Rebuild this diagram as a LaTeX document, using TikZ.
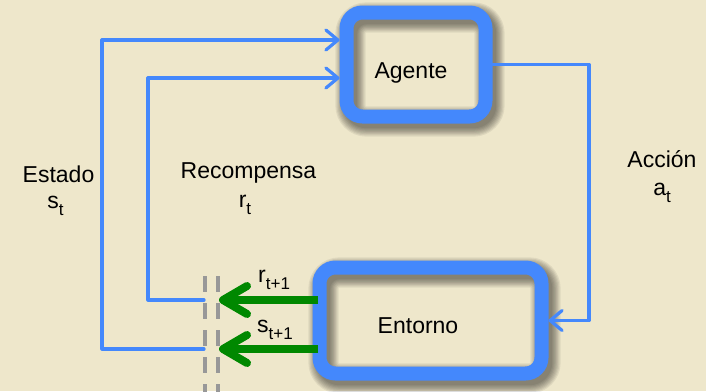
\documentclass[tikz,border=0pt]{standalone}
\usepackage{fontspec}
\setmainfont{Liberation Sans}
\usetikzlibrary{arrows.meta}

\definecolor{parchment}{RGB}{238,231,203}
\definecolor{loopblue}{RGB}{68,136,252}
\definecolor{stepgreen}{RGB}{0,136,0}
\definecolor{gapgrey}{RGB}{152,152,152}

% lowered, smaller index such as t or t+1
\newcommand{\lowidx}[1]{\raisebox{-7pt}{\fontsize{17}{17}\selectfont #1}}

% soft shadow of a thick rounded frame, given by its stroke centre line
\newcommand{\frameshadow}[4]{%
  \foreach \k in {1,...,8}{%
    \pgfmathsetmacro\lw{11+2.4*\k}%
    \draw[line width=\lw pt, black, opacity=0.065, rounded corners=16pt]
      (#1+4,#2+5) rectangle (#3+4,#4+5);}}

\begin{document}
\begin{tikzpicture}[x=1pt,y=-1pt,
  frame/.style={draw=loopblue, line width=14pt, rounded corners=16pt,
    inner sep=0pt},
  loop/.style={draw=loopblue, line width=3.2pt, line cap=round, line join=round,
    -{Straight Barb[length=12pt,width=20pt,round]}},
  push/.style={draw=stepgreen, line width=8pt,
    -{Straight Barb[length=24pt,width=28pt,round]}},
  gap/.style={draw=gapgrey, line width=3.5pt, dash pattern=on 16pt off 11pt},
  word/.style={font=\fontsize{23}{28}\selectfont, inner sep=0pt, anchor=base}]

% paper
\fill[parchment] (0,0) rectangle (706,391);
\useasboundingbox (0,0) rectangle (706,391);

% frame shadows
\frameshadow{346.5}{12.5}{485.5}{116.5}
\frameshadow{319.5}{267.5}{541.5}{373.5}

% agent and environment
\node[frame, minimum width=139pt, minimum height=104pt] (agent) at (416,64.5) {};
\node[frame, minimum width=222pt, minimum height=106pt] (env) at (430.5,320.5) {};
\node[word] (agentText) at (411,78) {Agente};
\node[word] (envText) at (418,333) {Entorno};

% split between time steps
\coordinate (gapA) at (205,276);
\coordinate (gapB) at (218,276);
\draw[gap] (gapA) -- ++(0,125);
\draw[gap] (gapB) -- ++(0,125);

% loop ends at the split
\coordinate (rEnd) at (204,300);
\coordinate (sEnd) at (204,349);
\coordinate (rTop) at (148,78);
\coordinate (sTop) at (102,40);
\coordinate (rTip) at (219,300);
\coordinate (sTip) at (219,349);

% action
\draw[loop] (agent.east) -| ([xshift=40.5pt]env.east) -- (env.east);
% state and reward back to the agent
\draw[loop] (sEnd) -| (sTop) -- (sTop -| agent.west);
\draw[loop] (rEnd) -| (rTop) -- (rTop -| agent.west);

% next reward and next state
\draw[push] ([xshift=5pt]env.west |- rTip) -- (rTip);
\draw[push] ([xshift=5pt]env.west |- sTip) -- (sTip);

% labels
\node[word] (stateWord) at (58.5,182) {Estado};
\node[word] (stateSym) at (55.5,208) {s\lowidx{t}};
\node[word] (rewardWord) at (248.5,178) {Recompensa};
\node[word] (rewardSym) at (245,207) {r\lowidx{t}};
\node[word] (actionWord) at (662,167) {Acción};
\node[word] (actionSym) at (662,195) {a\lowidx{t}};
\node[word, anchor=base west] (rNext) at (258,282) {r\lowidx{t+1}};
\node[word, anchor=base west] (sNext) at (257,332) {s\lowidx{t+1}};
\end{tikzpicture}
\end{document}
